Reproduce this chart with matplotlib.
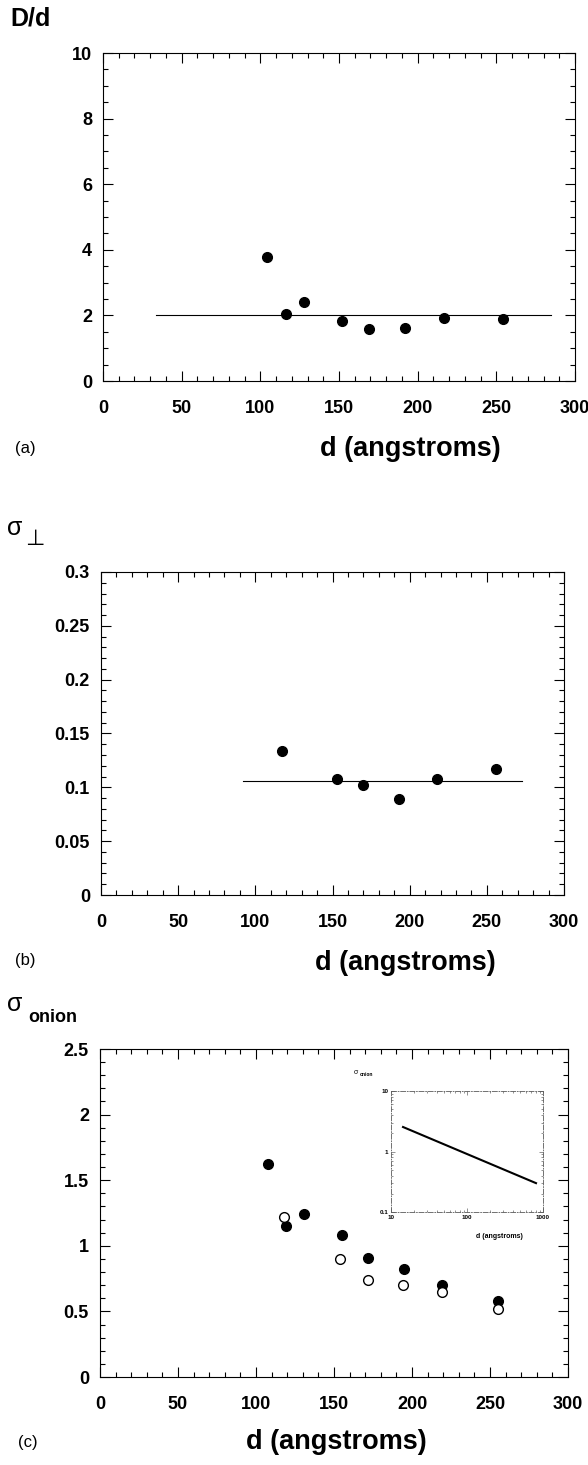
import matplotlib
matplotlib.use("Agg")
import matplotlib.pyplot as plt
from matplotlib.ticker import MultipleLocator, AutoMinorLocator

plt.rcParams['font.family'] = ['Liberation Sans', 'DejaVu Sans']

# panel (a): D/d vs d
d_a = [104, 116, 128, 152, 169, 192, 217, 254]
Dd_a = [3.77, 2.03, 2.41, 1.83, 1.58, 1.62, 1.92, 1.88]
fit_a_x = [34, 285]
fit_a_y = [2.0, 2.0]

# panel (b): sigma_perp vs d
d_b = [117, 153, 170, 193, 218, 256]
sp_b = [0.134, 0.108, 0.102, 0.0895, 0.108, 0.117]
fit_b_x = [92, 273]
fit_b_y = [0.106, 0.106]

# panel (c): sigma_onion vs d
d_c_full = [108, 119, 131, 155, 172, 195, 219, 255]
so_full = [1.62, 1.15, 1.24, 1.08, 0.91, 0.82, 0.70, 0.58]
d_c_open = [118, 154, 172, 194, 219, 255]
so_open = [1.22, 0.90, 0.74, 0.70, 0.65, 0.52]
# inset (log-log)
ins_x = [14.4, 809]
ins_y = [2.54, 0.30]

W, H = 588, 1465
fig = plt.figure(figsize=(W / 100, H / 100), dpi=100)


def rect(l, t, r, b):
    return [l / W, 1 - b / H, (r - l) / W, (b - t) / H]


def txt(x, y, s, **kw):
    fig.text(x / W, 1 - y / H, s, **kw)


def style(ax, xmaj, ymaj, ynminor):
    ax.xaxis.set_major_locator(MultipleLocator(xmaj))
    ax.yaxis.set_major_locator(MultipleLocator(ymaj))
    ax.xaxis.set_minor_locator(AutoMinorLocator(5))
    ax.yaxis.set_minor_locator(AutoMinorLocator(ynminor))
    ax.tick_params(which='both', direction='in', top=True, right=True, width=0.8)
    ax.tick_params(which='major', length=7)
    ax.tick_params(which='minor', length=3.5)
    ax.tick_params(axis='x', which='major', pad=14, labelsize=13)
    ax.tick_params(axis='y', which='major', pad=8, labelsize=13)
    for lab in ax.get_xticklabels() + ax.get_yticklabels():
        lab.set_fontweight('bold')
    for sp in ax.spines.values():
        sp.set_linewidth(0.8)


# (a)
ax1 = fig.add_axes(rect(103, 53, 575, 381))
ax1.plot(fit_a_x, fit_a_y, color='black', lw=0.8)
ax1.plot(d_a, Dd_a, 'o', color='black', ms=7)
ax1.set_xlim(0, 300)
ax1.set_ylim(0, 10)
style(ax1, 50, 2, 4)
txt(10, 18, 'D/d', fontsize=18, fontweight='bold', va='center')
txt(15, 449, '(a)', fontsize=12, va='center')
txt(410, 449, 'd (angstroms)', fontsize=19.5, fontweight='bold', va='center', ha='center')

# (b)
ax2 = fig.add_axes(rect(101, 572, 564, 895))
ax2.plot(fit_b_x, fit_b_y, color='black', lw=0.8)
ax2.plot(d_b, sp_b, 'o', color='black', ms=7)
ax2.set_xlim(0, 300)
ax2.set_ylim(0, 0.3)
style(ax2, 50, 0.05, 5)
ax2.set_yticks([0, 0.05, 0.1, 0.15, 0.2, 0.25, 0.3])
ax2.set_yticklabels(['0', '0.05', '0.1', '0.15', '0.2', '0.25', '0.3'], fontweight='bold')
txt(7, 528, 'σ', fontsize=18, va='center')
txt(25, 540, '⊥', fontsize=16, va='center')
txt(15, 960, '(b)', fontsize=12, va='center')
txt(405, 963, 'd (angstroms)', fontsize=19.5, fontweight='bold', va='center', ha='center')

# (c)
ax3 = fig.add_axes(rect(100, 1049, 568, 1377))
ax3.plot(d_c_full, so_full, 'o', color='black', ms=7)
ax3.plot(d_c_open, so_open, 'o', mfc='white', mec='black', mew=1.0, ms=7)
ax3.set_xlim(0, 300)
ax3.set_ylim(0, 2.5)
style(ax3, 50, 0.5, 5)
ax3.set_yticks([0, 0.5, 1, 1.5, 2, 2.5])
ax3.set_yticklabels(['0', '0.5', '1', '1.5', '2', '2.5'], fontweight='bold')
txt(7, 1004, 'σ', fontsize=18, va='center')
txt(28, 1018, 'onion', fontsize=13, fontweight='bold', va='center')
txt(18, 1442, '(c)', fontsize=12, va='center')
txt(336, 1442, 'd (angstroms)', fontsize=19.5, fontweight='bold', va='center', ha='center')

# inset
axi = fig.add_axes(rect(391, 1091, 543, 1212))
axi.loglog(ins_x, ins_y, color='black', lw=1.5)
axi.set_xlim(10, 1000)
axi.set_ylim(0.1, 10)
axi.tick_params(which='both', direction='in', top=True, right=True, labelsize=4.5, pad=2,
                width=0.5, color='0.4')
axi.tick_params(which='major', length=3)
axi.tick_params(which='minor', length=1.5)
axi.set_xticks([10, 100, 1000])
axi.set_xticklabels(['10', '100', '1000'], fontweight='bold')
axi.set_yticks([0.1, 1, 10])
axi.set_yticklabels(['0.1', '1', '10'], fontweight='bold')
for sp in axi.spines.values():
    sp.set_linewidth(0.6)
    sp.set_linestyle((0, (6, 2, 1, 2)))
    sp.set_color('0.35')
txt(354, 1072, 'σ', fontsize=5, va='center')
txt(360, 1075, 'onion', fontsize=3.5, fontweight='bold', va='center')
txt(499, 1236, 'd (angstroms)', fontsize=5, fontweight='bold', va='center', ha='center')

fig.savefig('out.png', dpi=100)
